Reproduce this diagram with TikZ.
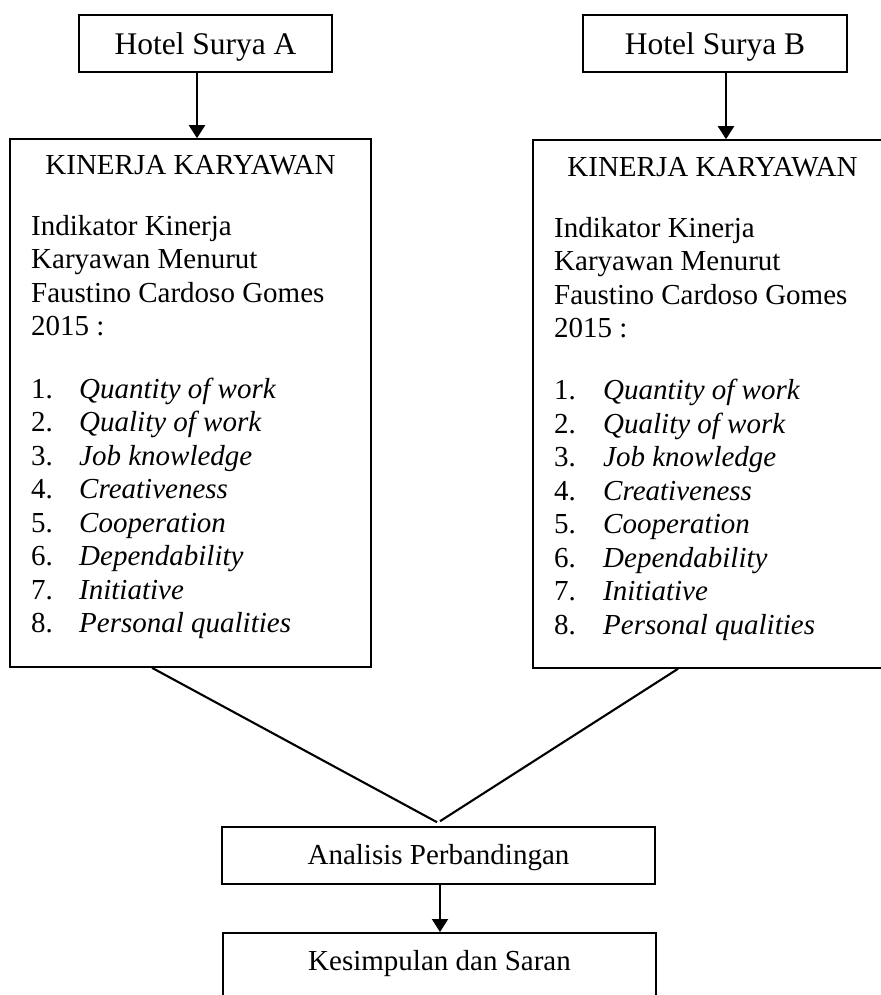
\documentclass[tikz,border=0pt]{standalone}
\usepackage{fontspec}
\setmainfont{Liberation Serif}
\usetikzlibrary{arrows.meta,calc}
\begin{document}
\begin{tikzpicture}[x=1pt,y=-1pt,
  box/.style={draw, line width=1.6pt, rectangle, inner sep=0pt},
  body/.style={font=\fontsize{29}{33.5}\selectfont, inner sep=0pt},
  topf/.style={font=\fontsize{31.5}{36}\selectfont, inner sep=0pt},
  conn/.style={line width=2.1pt},
  arr/.style={line width=2.1pt, -{Triangle[width=16pt,length=13pt]}}]
\useasboundingbox (0,0) rectangle (880,995);

% top boxes
\node[box, topf, minimum width=253pt, minimum height=57pt, text height=21.7pt, text depth=0pt] (HA) at (205.5,43.5) {Hotel Surya A};
\node[box, topf, minimum width=264pt, minimum height=57pt, text height=21.7pt, text depth=0pt] (HB) at (715,43.5) {Hotel Surya B};

% big boxes
\node[box, minimum width=361pt, minimum height=528pt] (KA) at (190.5,403) {};
\node[box, minimum width=359pt, minimum height=528pt] (KB) at (712.5,404) {};

\node[body, anchor=base] (KAt) at (190.5,175) {KINERJA KARYAWAN};
\node[body, anchor=base] (KBt) at (712.5,177) {KINERJA KARYAWAN};

\foreach \t [count=\i] in {Indikator Kinerja, Karyawan Menurut, Faustino Cardoso Gomes, 2015 :}{
  \node[body, anchor=base west] (KAp\i) at (31,{235+33.6*(\i-1)}) {\t};
  \node[body, anchor=base west] (KBp\i) at (554,{237+33.6*(\i-1)}) {\t};
}
\foreach \t [count=\i] in {Quantity of work, Quality of work, Job knowledge, Creativeness, Cooperation, Dependability, Initiative, Personal qualities}{
  \node[body, anchor=base west] (KAl\i) at (31,{398+33.57*(\i-1)}) {\makebox[48pt][l]{\i.}\textit{\t}};
  \node[body, anchor=base west] (KBl\i) at (554,{399.5+33.57*(\i-1)}) {\makebox[49pt][l]{\i.}\textit{\t}};
}

% arrows from hotels
\draw[arr] ([xshift=-8.5pt]HA.south) -- ([xshift=-8.5pt]HA.south |- KA.north);
\draw[arr] ([xshift=11pt]HB.south) -- ([xshift=11pt]HB.south |- KB.north);

% analysis
\node[box, body, minimum width=433pt, minimum height=57pt, text height=18.3pt, text depth=0pt] (AP) at (438.5,855.5) {Analisis Perbandingan};

\draw[conn] ([xshift=-38.5pt]KA.south) -- ([xshift=-1.5pt,yshift=4pt]AP.north);
\draw[conn] ([xshift=-34.5pt]KB.south) -- ([xshift=1.5pt,yshift=5pt]AP.north);

% conclusion
\node[box, minimum width=433pt, minimum height=80pt, anchor=north] (KS) at (439.5,932) {};
\node[body, anchor=base] (KSt) at (439.5,970) {Kesimpulan dan Saran};

\draw[arr] ([xshift=1.5pt]AP.south) -- ([xshift=1.5pt]AP.south |- KS.north);
\end{tikzpicture}
\end{document}
